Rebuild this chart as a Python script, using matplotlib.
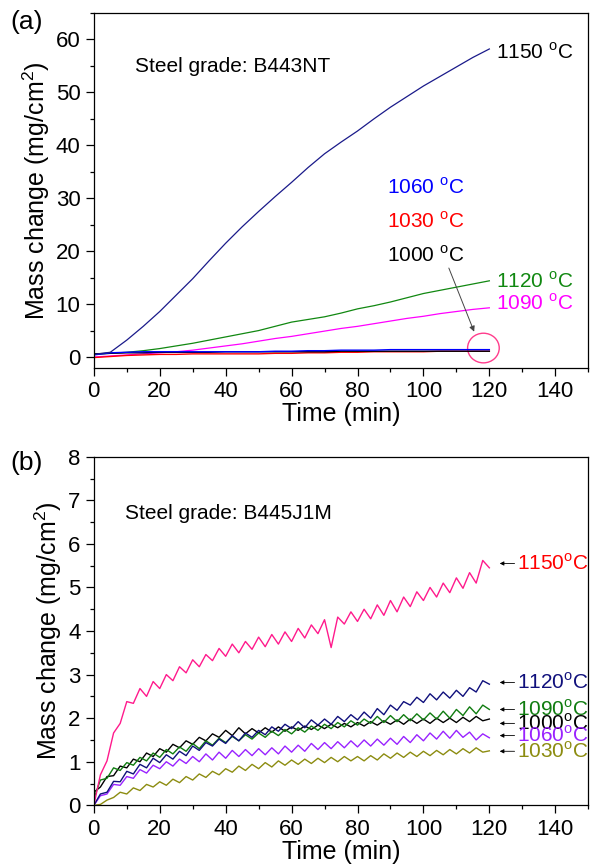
import matplotlib
matplotlib.use("Agg")
import matplotlib.pyplot as plt
from matplotlib.patches import Ellipse
from matplotlib.ticker import MultipleLocator

plt.rcParams['font.family'] = ['Liberation Sans', 'DejaVu Sans']
plt.rcParams['mathtext.fontset'] = 'custom'
plt.rcParams['mathtext.rm'] = 'Liberation Sans'

# ---- panel (a): B443NT, sampled every 5 min ----
time_a = [0, 5, 10, 15, 20, 25, 30, 35, 40, 45, 50, 55, 60,
          65, 70, 75, 80, 85, 90, 95, 100, 105, 110, 115, 120]
a_1150 = [0.5, 0.9, 3.2, 5.8, 8.6, 11.7, 14.8, 18.2, 21.5, 24.6, 27.5, 30.3, 33.0,
          35.8, 38.4, 40.6, 42.7, 45.0, 47.2, 49.2, 51.2, 53.0, 54.8, 56.6, 58.2]
a_1120 = [0.5, 0.7, 0.9, 1.2, 1.6, 2.1, 2.6, 3.2, 3.8, 4.4, 5.0, 5.8, 6.6,
          7.1, 7.6, 8.3, 9.1, 9.7, 10.4, 11.2, 12.0, 12.6, 13.2, 13.8, 14.4]
a_1090 = [0.0, 0.2, 0.4, 0.6, 0.8, 1.0, 1.3, 1.7, 2.1, 2.5, 3.0, 3.5, 3.9,
          4.4, 4.9, 5.4, 5.8, 6.3, 6.8, 7.3, 7.7, 8.2, 8.6, 9.0, 9.3]
a_1060 = [0.4, 0.8, 0.9, 1.0, 1.0, 1.0, 1.0, 1.0, 1.0, 1.0, 1.0, 1.1, 1.1,
          1.2, 1.2, 1.3, 1.3, 1.3, 1.4, 1.4, 1.4, 1.4, 1.4, 1.4, 1.4]
a_1030 = [-0.1, 0.1, 0.3, 0.4, 0.5, 0.5, 0.6, 0.6, 0.6, 0.6, 0.6, 0.7, 0.7,
          0.8, 0.8, 0.9, 0.9, 1.0, 1.0, 1.0, 1.0, 1.1, 1.1, 1.1, 1.1]
a_1000 = [0.6, 0.7, 0.8, 0.8, 0.9, 0.9, 0.9, 0.9, 1.0, 1.0, 1.0, 1.0, 1.0,
          1.0, 1.0, 1.1, 1.1, 1.1, 1.1, 1.1, 1.1, 1.1, 1.1, 1.1, 1.1]

# ---- panel (b): B445J1M, sampled every 2 min ----
time_b = list(range(0, 121, 2))
b_1150 = [0.00, 0.70, 1.02, 1.66, 1.88, 2.38, 2.34, 2.68, 2.50, 2.84,
          2.68, 3.00, 2.86, 3.18, 3.04, 3.34, 3.18, 3.46, 3.32, 3.60,
          3.42, 3.70, 3.50, 3.76, 3.58, 3.86, 3.64, 3.92, 3.70, 3.98,
          3.76, 4.06, 3.84, 4.14, 3.94, 4.26, 3.62, 4.32, 4.16, 4.44,
          4.22, 4.50, 4.28, 4.60, 4.36, 4.70, 4.44, 4.78, 4.56, 4.90,
          4.70, 5.00, 4.78, 5.10, 4.88, 5.22, 4.98, 5.34, 5.10, 5.62,
          5.45]
b_1120 = [0.00, 0.26, 0.30, 0.55, 0.54, 0.78, 0.72, 0.94, 0.86, 1.08,
          0.98, 1.16, 1.06, 1.24, 1.14, 1.36, 1.26, 1.44, 1.36, 1.52,
          1.42, 1.60, 1.48, 1.66, 1.56, 1.72, 1.62, 1.80, 1.70, 1.86,
          1.76, 1.92, 1.78, 1.96, 1.84, 1.98, 1.86, 2.04, 1.92, 2.08,
          1.96, 2.14, 2.00, 2.22, 2.08, 2.30, 2.18, 2.38, 2.30, 2.48,
          2.36, 2.56, 2.42, 2.60, 2.46, 2.64, 2.50, 2.70, 2.60, 2.86,
          2.78]
b_1090 = [0.15, 0.58, 0.62, 0.86, 0.80, 0.98, 0.92, 1.10, 1.02, 1.20,
          1.10, 1.28, 1.18, 1.34, 1.24, 1.42, 1.30, 1.48, 1.38, 1.54,
          1.44, 1.58, 1.48, 1.62, 1.52, 1.66, 1.56, 1.70, 1.60, 1.74,
          1.64, 1.78, 1.68, 1.82, 1.72, 1.86, 1.76, 1.90, 1.80, 1.94,
          1.84, 1.98, 1.88, 2.04, 1.90, 2.06, 1.92, 2.08, 1.94, 2.10,
          1.96, 2.12, 1.98, 2.16, 2.00, 2.20, 2.06, 2.26, 2.10, 2.30,
          2.20]
b_1000 = [0.30, 0.42, 0.66, 0.68, 0.90, 0.86, 1.06, 1.00, 1.20, 1.12,
          1.30, 1.22, 1.40, 1.32, 1.48, 1.40, 1.56, 1.48, 1.64, 1.56,
          1.72, 1.60, 1.78, 1.64, 1.76, 1.66, 1.78, 1.68, 1.80, 1.70,
          1.80, 1.72, 1.82, 1.74, 1.84, 1.76, 1.86, 1.78, 1.88, 1.80,
          1.90, 1.82, 1.92, 1.84, 1.94, 1.86, 1.96, 1.86, 1.98, 1.88,
          1.98, 1.88, 2.00, 1.90, 2.00, 1.90, 2.02, 1.92, 2.04, 1.94,
          1.98]
b_1060 = [0.00, 0.22, 0.26, 0.48, 0.46, 0.66, 0.62, 0.82, 0.74, 0.92,
          0.84, 1.00, 0.90, 1.06, 0.96, 1.12, 1.00, 1.18, 1.04, 1.22,
          1.08, 1.26, 1.12, 1.28, 1.14, 1.30, 1.16, 1.32, 1.18, 1.36,
          1.22, 1.38, 1.24, 1.42, 1.28, 1.44, 1.30, 1.46, 1.32, 1.48,
          1.34, 1.50, 1.36, 1.52, 1.38, 1.54, 1.40, 1.58, 1.44, 1.62,
          1.48, 1.66, 1.52, 1.70, 1.54, 1.72, 1.56, 1.68, 1.50, 1.64,
          1.55]
b_1030 = [0.00, 0.02, 0.12, 0.18, 0.30, 0.26, 0.40, 0.34, 0.48, 0.42,
          0.54, 0.46, 0.60, 0.52, 0.66, 0.58, 0.72, 0.64, 0.78, 0.70,
          0.84, 0.76, 0.90, 0.80, 0.94, 0.84, 0.98, 0.88, 1.02, 0.92,
          1.04, 0.94, 1.06, 0.96, 1.08, 0.98, 1.10, 1.00, 1.12, 1.02,
          1.12, 1.02, 1.14, 1.04, 1.18, 1.08, 1.20, 1.10, 1.22, 1.12,
          1.24, 1.14, 1.26, 1.16, 1.28, 1.18, 1.30, 1.20, 1.32, 1.22,
          1.25]

fig = plt.figure(figsize=(5.9, 8.65), dpi=100)
ax1 = fig.add_axes([0.159, 0.575, 0.838, 0.410])
ax2 = fig.add_axes([0.159, 0.069, 0.838, 0.403])


def style_axes(ax, ymajor, yminor):
    ax.set_xlim(0, 150)
    ax.xaxis.set_major_locator(MultipleLocator(20))
    ax.xaxis.set_minor_locator(MultipleLocator(10))
    ax.yaxis.set_major_locator(MultipleLocator(ymajor))
    ax.yaxis.set_minor_locator(MultipleLocator(yminor))
    ax.tick_params(which='both', direction='out', top=False, right=False,
                   labelsize=16, width=0.9)
    ax.tick_params(which='major', length=6)
    ax.tick_params(which='minor', length=3)
    for s in ax.spines.values():
        s.set_linewidth(0.9)
    ax.set_xlabel('Time (min)', fontsize=18, labelpad=0)
    ax.set_ylabel('Mass change (mg/cm$^2$)', fontsize=18, labelpad=3)


# panel (a)
ax1.plot(time_a, a_1090, color='#ff00ff', lw=0.9)
ax1.plot(time_a, a_1120, color='#118811', lw=0.9)
ax1.plot(time_a, a_1030, color='#ff0000', lw=1.0)
ax1.plot(time_a, a_1000, color='black', lw=1.0)
ax1.plot(time_a, a_1060, color='#0000ff', lw=1.0)
ax1.plot(time_a, a_1150, color='#1a1a8a', lw=0.9)
ax1.set_ylim(-2, 65)
style_axes(ax1, 10, 5)
ax1.text(12.4, 54.8, 'Steel grade: B443NT', fontsize=15, va='center')
lab = 15
ax1.text(122, 57.5, '1150 $^{\\rm o}$C', color='black', fontsize=lab, va='center')
ax1.text(89, 32, '1060 $^{\\rm o}$C', color='#0000ff', fontsize=lab, va='center')
ax1.text(89, 25.6, '1030 $^{\\rm o}$C', color='#ff0000', fontsize=lab, va='center')
ax1.text(89, 19.3, '1000 $^{\\rm o}$C', color='black', fontsize=lab, va='center')
ax1.text(122, 14.3, '1120 $^{\\rm o}$C', color='#118811', fontsize=lab, va='center')
ax1.text(122, 10.1, '1090 $^{\\rm o}$C', color='#ff00ff', fontsize=lab, va='center')
ax1.annotate('', xy=(115.7, 4.3), xytext=(107.4, 17.3),
             arrowprops=dict(arrowstyle='-|>', color='#444444', lw=0.7,
                             mutation_scale=8))
ax1.add_patch(Ellipse((118.2, 1.7), 9.6, 5.6, fill=False,
                      edgecolor='#ff3c8c', lw=1.0))
fig.text(0.018, 0.975, '(a)', fontsize=19, va='center')

# panel (b)
ax2.plot(time_b, b_1030, color='#8c8c10', lw=1.0)
ax2.plot(time_b, b_1060, color='#9922ff', lw=1.0)
ax2.plot(time_b, b_1000, color='black', lw=1.0)
ax2.plot(time_b, b_1090, color='#107c10', lw=1.0)
ax2.plot(time_b, b_1120, color='#10107c', lw=1.0)
ax2.plot(time_b, b_1150, color='#ff1a8c', lw=1.0)
ax2.set_ylim(0, 8)
style_axes(ax2, 1, 0.5)
ax2.text(9.4, 6.7, 'Steel grade: B445J1M', fontsize=15, va='center')

# the reference labels crowd each other at the right edge
labels_b = ['1150', '1120', '1090', '1000', '1060', '1030']
label_y = [5.55, 2.82, 2.2, 1.88, 1.6, 1.24]
label_colors = ['#ff0000', '#10107c', '#107c10', 'black', '#9922ff', '#8c8c10']
for name, yv, c in zip(labels_b, label_y, label_colors):
    ax2.annotate('', xy=(122.3, yv), xytext=(128.5, yv),
                 arrowprops=dict(arrowstyle='-|>', color='black', lw=0.6,
                                 mutation_scale=6))
    ax2.text(128.3, yv, name + '$^{\\rm o}$C', color=c, fontsize=lab,
             va='center')
fig.text(0.018, 0.465, '(b)', fontsize=19, va='center')

fig.savefig('out.png', dpi=100)
